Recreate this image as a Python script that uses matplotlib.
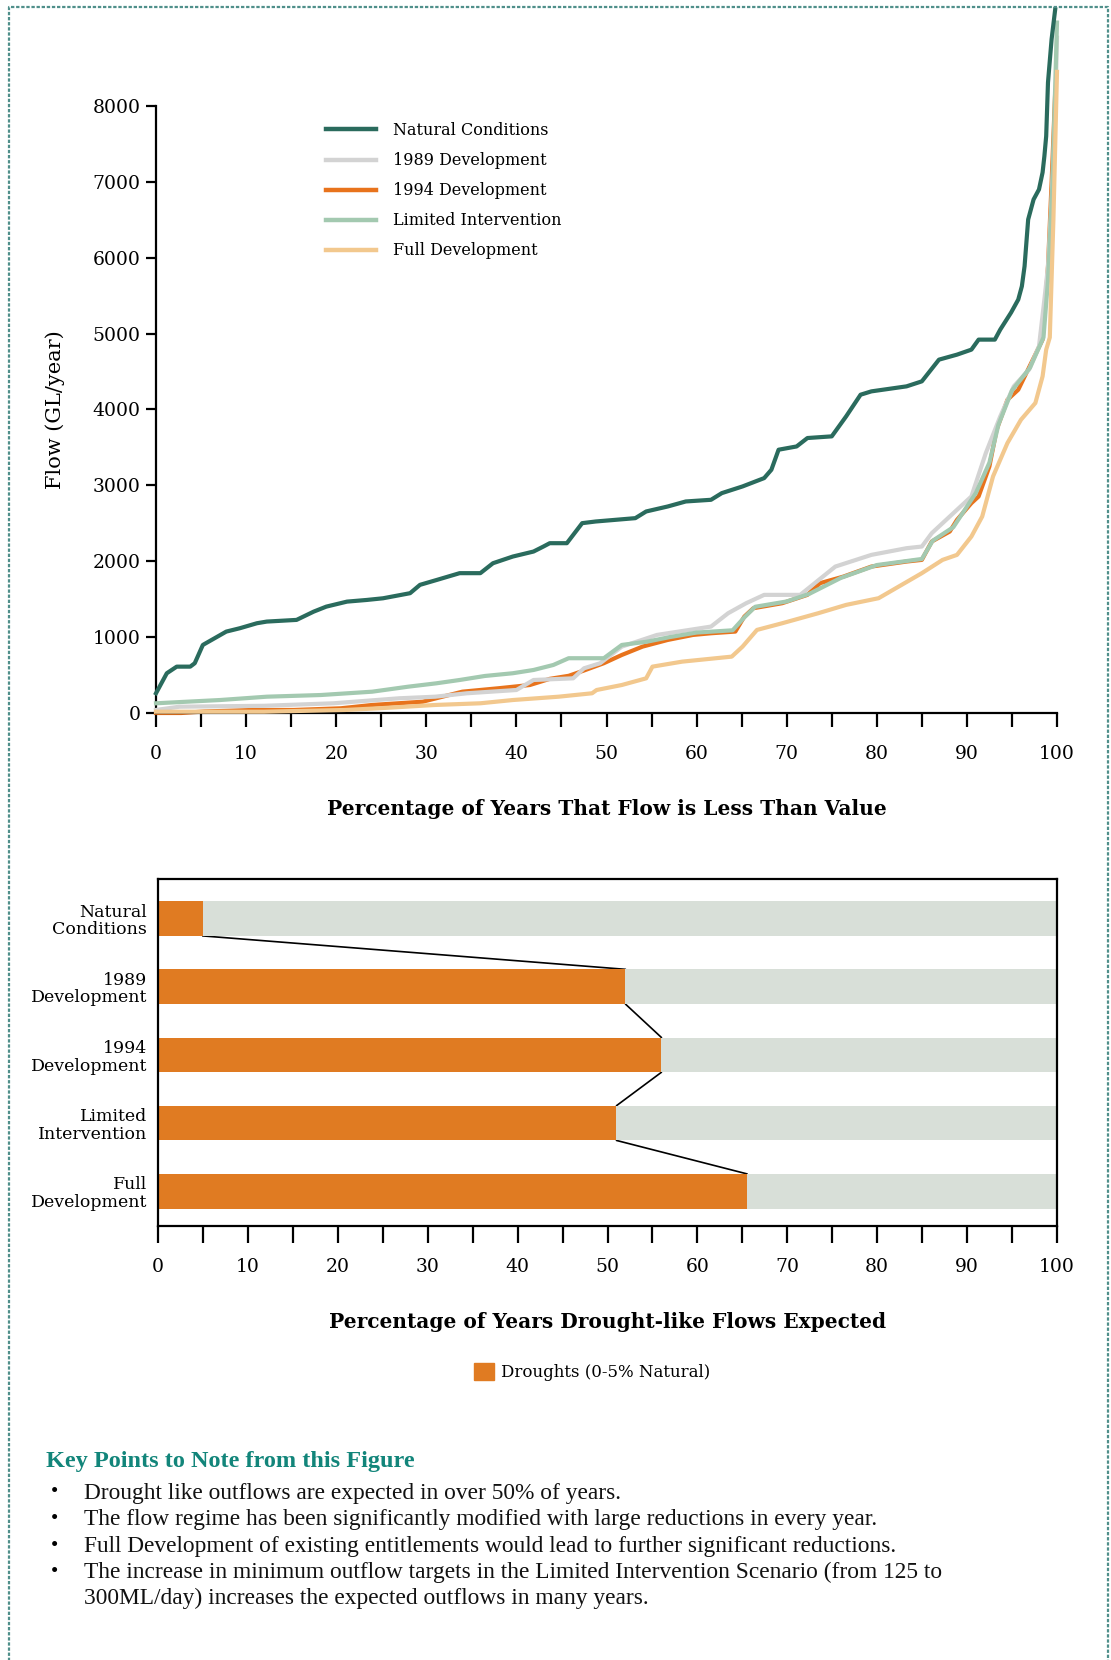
import matplotlib
matplotlib.use("Agg")
import matplotlib.pyplot as plt
from matplotlib.lines import Line2D
from matplotlib.patches import Patch

plt.rcParams['font.family'] = ['DejaVu Serif', 'Liberation Serif']

# --- flow duration curves (GL/year) ---
pct_nat = [0, 1.2, 2.3, 3.8, 4.3, 5.2, 7.8, 9.3, 11.2, 12.3, 15.6, 17.5, 18.9, 21.2, 23.4,
           25.2, 28.2, 29.3, 31.2, 33.7, 36.0, 37.4, 39.6, 41.9, 43.0, 43.7, 45.6, 47.3,
           48.8, 53.2, 54.4, 56.8, 58.8, 61.6, 62.8, 65.1, 67.5, 68.3, 69.1, 71.1, 72.3,
           75.0, 76.6, 78.2, 79.4, 83.3, 85.0, 86.9, 88.9, 90.5, 91.3, 93.1, 93.7, 94.9,
           95.7, 96.1, 96.4, 96.8, 97.4, 98.0, 98.4, 98.6, 98.8, 99.0, 99.4, 99.8]
flow_nat = [260, 524, 611, 611, 656, 897, 1073, 1117, 1183, 1205, 1227, 1336, 1402, 1468, 1490,
            1512, 1579, 1689, 1755, 1843, 1843, 1974, 2062, 2128, 2194, 2238, 2238, 2502,
            2524, 2568, 2656, 2722, 2788, 2810, 2898, 2986, 3096, 3206, 3470, 3513, 3624,
            3646, 3910, 4195, 4239, 4305, 4371, 4657, 4723, 4789, 4921, 4921, 5053, 5277,
            5449, 5624, 5888, 6504, 6768, 6900, 7124, 7339, 7603, 8311, 8879, 9274]

pct_1989 = [0, 2.6, 12, 19.7, 27, 31, 34.5, 40, 41.9, 46.3, 47.5, 49.3, 51.7, 55.6, 61.6, 63.5,
            65.5, 67.5, 71.5, 75.4, 79.4, 83.3, 85.0, 86.1, 88.1, 90.5, 92.1, 93.7, 95.2,
            96.9, 98.0, 98.6, 99.0, 99.4, 99.8, 100]
flow_1989 = [40, 83, 95, 128, 194, 215, 260, 303, 435, 457, 589, 656, 875, 1029, 1139, 1315,
             1447, 1557, 1557, 1930, 2084, 2172, 2194, 2370, 2590, 2854, 3426, 3909, 4305,
             4525, 4833, 5449, 5888, 6768, 7867, 8900]

pct_1994 = [0, 2.8, 5.4, 10.7, 15.3, 20.5, 24, 29.6, 34, 38, 41.5, 43.7, 45.8, 47.5, 49.7,
            51.7, 54, 56.8, 59.6, 61.6, 64.3, 65.3, 66.3, 69.5, 72.3, 73.7, 76.3, 79.4, 83.3,
            85.0, 86.1, 88.1, 88.9, 90.5, 91.3, 92.5, 93.3, 94.5, 95.7, 98.4, 98.8, 99.0,
            99.4, 99.8]
flow_1994 = [0, 0, 20, 40, 40, 62, 106, 149, 281, 326, 369, 450, 490, 560, 656,
             765, 875, 963, 1029, 1051, 1073, 1271, 1381, 1447, 1557, 1711, 1798, 1930, 1996,
             2018, 2260, 2392, 2546, 2766, 2854, 3250, 3734, 4129, 4261, 4921, 5558, 5890,
             6988, 8190]

pct_lim = [0, 7.1, 12.3, 18.3, 24.0, 28.0, 31.1, 33.7, 36.5, 39.6, 41.9, 44.1, 45.8, 49.7,
           51.7, 54.5, 57, 60, 64, 65.3, 66.5, 70, 72.5, 76, 80, 85, 86.2, 88.5, 91, 92.5,
           93.5, 95, 97, 98.5, 99, 99.5, 100]
flow_lim = [128, 171, 215, 237, 281, 347, 391, 435, 488, 524, 567, 633, 722, 722,
            897, 940, 1000, 1060, 1090, 1260, 1400, 1470, 1570, 1780, 1950, 2030, 2270, 2450,
            2900, 3300, 3800, 4250, 4550, 4950, 5700, 7000, 9100]

pct_full = [0, 12, 21, 24.7, 31, 36, 39.6, 44.7, 48.4, 48.9, 51.7, 54.4, 55.1, 58.4, 63.9,
            65.1, 66.7, 69.5, 73.5, 76.6, 80.2, 81.8, 85.0, 87.3, 88.9, 90.5, 91.7, 92.9,
            94.5, 96.0, 97.6, 98.4, 98.8, 99.2, 99.6, 100]
flow_full = [17, 17, 40, 62, 106, 128, 171, 215, 260, 303, 369, 457, 611, 677, 743,
             875, 1095, 1183, 1315, 1425, 1513, 1623, 1843, 2018, 2084, 2326, 2590, 3118,
             3558, 3865, 4086, 4437, 4789, 4950, 6500, 8450]

# --- drought bars ---
scenarios = ["Natural\nConditions", "1989\nDevelopment", "1994\nDevelopment",
             "Limited\nIntervention", "Full\nDevelopment"]
drought = [5, 52, 56, 51, 65.5]

key_title = "Key Points to Note from this Figure"
key_points = [
    "Drought like outflows are expected in over 50% of years.",
    "The flow regime has been significantly modified with large reductions in every year.",
    "Full Development of existing entitlements would lead to further significant reductions.",
    "The increase in minimum outflow targets in the Limited Intervention Scenario (from 125 to",
    "300ML/day) increases the expected outflows in many years.",
]

c_nat = '#2a6b5d'
c_1989 = '#d3d3d3'
c_1994 = '#e8731c'
c_lim = '#a3c9b0'
c_full = '#f2c88e'
c_bar = '#e07b22'
c_rest = '#d8dfd8'

W, H = 1111, 1660
fig = plt.figure(figsize=(W / 100, H / 100), dpi=100)

def fx(px):
    return px / W

def fy(py):
    return 1 - py / H

# top chart
ax = fig.add_axes([fx(156), fy(713), fx(1057) - fx(156), fy(106) - fy(713)])
lw = 3
ax.plot(pct_1994, flow_1994, color=c_1994, lw=lw, clip_on=False, zorder=2)
ax.plot(pct_1989, flow_1989, color=c_1989, lw=lw, clip_on=False, zorder=3)
ax.plot(pct_lim, flow_lim, color=c_lim, lw=lw, clip_on=False, zorder=4)
ax.plot(pct_full, flow_full, color=c_full, lw=lw, clip_on=False, zorder=5)
ax.plot(pct_nat, flow_nat, color=c_nat, lw=lw, clip_on=False, zorder=6)

ax.set_xlim(0, 100)
ax.set_ylim(0, 8000)
ax.spines['top'].set_visible(False)
ax.spines['right'].set_visible(False)
ax.spines['left'].set_linewidth(1.6)
ax.spines['bottom'].set_linewidth(1.6)
ax.set_xticks(range(0, 101, 10))
ax.set_xticks(range(5, 100, 10), minor=True)
ax.set_yticks(range(0, 8001, 1000))
ax.tick_params(axis='x', which='both', direction='out', length=10, width=1.6, labelsize=13.5, pad=13)
ax.tick_params(axis='y', direction='out', length=7, width=1.6, labelsize=13.5, pad=4)
ax.set_xlabel("Percentage of Years That Flow is Less Than Value", fontsize=14.5,
              fontweight='bold', labelpad=26)
ax.set_ylabel("Flow (GL/year)", fontsize=15, labelpad=20)

handles = [Line2D([], [], color=c, lw=3.2) for c in [c_nat, c_1989, c_1994, c_lim, c_full]]
labels = ["Natural Conditions", "1989 Development", "1994 Development",
          "Limited Intervention", "Full Development"]
ax.legend(handles, labels, loc='upper left', bbox_to_anchor=(fx(326), fy(122)),
          bbox_transform=fig.transFigure, frameon=False, fontsize=11.5, handlelength=3.1,
          handletextpad=1.1, labelspacing=0.82, borderpad=0, borderaxespad=0)

# bottom chart
ax2 = fig.add_axes([fx(158), fy(1226), fx(1057) - fx(158), fy(879) - fy(1226)])
ypos = list(range(len(scenarios)))
h = 0.51
rest = [100 - d for d in drought]
ax2.barh(ypos, drought, height=h, color=c_bar, zorder=2)
ax2.barh(ypos, rest, left=drought, height=h, color=c_rest, zorder=2)

lx, ly = [], []
for i, d in enumerate(drought):
    lx += [d, d]
    ly += [i - h / 2, i + h / 2]
ax2.plot(lx[1:-1], ly[1:-1], color='black', lw=1.2, zorder=1)

ax2.set_xlim(0, 100)
ax2.set_ylim(len(scenarios) - 1 + 0.51, -0.58)
ax2.set_yticks(ypos)
ax2.set_yticklabels(scenarios, fontsize=12.5, multialignment='right', linespacing=1.05)
ax2.set_xticks(range(0, 101, 10))
ax2.set_xticks(range(5, 100, 10), minor=True)
for s in ax2.spines.values():
    s.set_linewidth(1.6)
ax2.tick_params(axis='y', length=0, pad=8)
ax2.tick_params(axis='x', which='both', direction='out', length=12, width=1.6, labelsize=13.5, pad=11)
ax2.set_xlabel("Percentage of Years Drought-like Flows Expected", fontsize=14.5,
               fontweight='bold', labelpad=26)

fig.legend([Patch(color=c_bar)], ["Droughts (0-5% Natural)"], loc='center left',
           bbox_to_anchor=(fx(474), fy(1372)), frameon=False, fontsize=12,
           handlelength=1.2, handleheight=1.2, handletextpad=0.4, borderpad=0, borderaxespad=0)

# key points block
fig.text(fx(46), fy(1461), key_title, color='#12857a', fontsize=17.5, fontweight='bold',
         va='center', ha='left', family='Liberation Serif')
ys = [1493, 1519, 1546, 1572, 1598]
for i, (t, y) in enumerate(zip(key_points, ys)):
    if i < 4:
        fig.text(fx(51), fy(y), "\u2022", fontsize=15, va='center', ha='left',
                 family='Liberation Serif')
    fig.text(fx(84), fy(y), t, fontsize=16.8, va='center', ha='left', color='#111111',
             family='Liberation Serif')

# dotted frame
fig.add_artist(Line2D([fx(9), fx(9), fx(1108), fx(1108)], [-0.01, fy(7), fy(7), -0.01],
                      transform=fig.transFigure, color='#4f8f8a', lw=1.6,
                      linestyle=(0, (1.5, 0.8))))

fig.savefig("out.png", dpi=100)
